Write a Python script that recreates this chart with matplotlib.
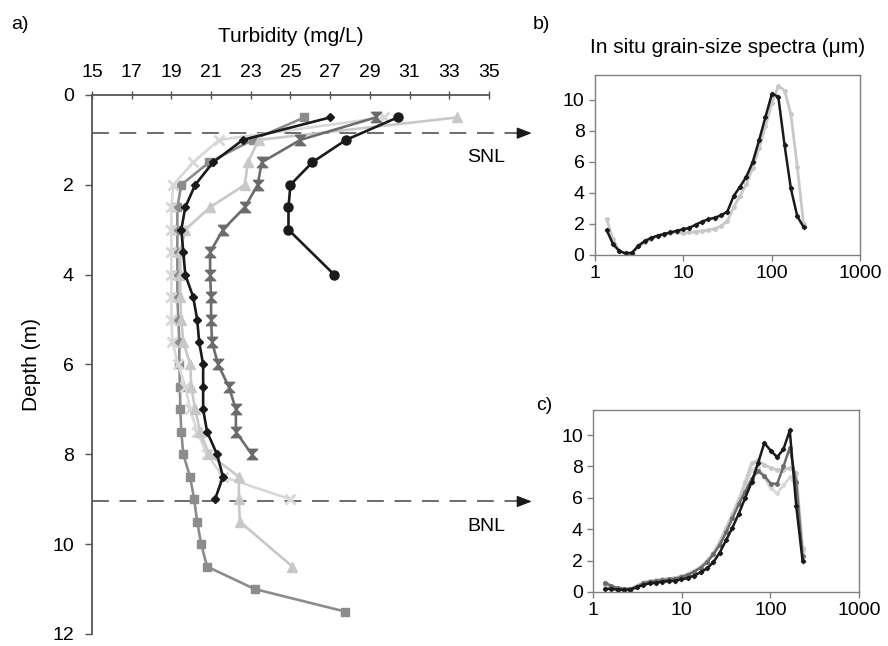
import matplotlib.pyplot as plt
from matplotlib.ticker import FixedLocator, NullLocator

plt.rcParams["font.family"] = ["Liberation Sans", "DejaVu Sans"]

# panel a: turbidity profiles (mg/L) vs depth (m)
depth_circle = [0.5, 1.0, 1.5, 2.0, 2.5, 3.0, 4.0]
turb_circle = [30.4, 27.8, 26.1, 25.0, 24.9, 24.9, 27.2]

depth_diamond = [0.5, 1.0, 1.5, 2.0, 2.5, 3.0, 3.5, 4.0, 4.5, 5.0, 5.5, 6.0, 6.5, 7.0, 7.5, 8.0, 8.5, 9.0]
turb_diamond = [27.0, 22.6, 21.1, 20.2, 19.7, 19.5, 19.6, 19.7, 20.1, 20.3, 20.4, 20.6, 20.6, 20.6, 20.8, 21.3, 21.6, 21.2]

depth_hourglass = [0.5, 1.0, 1.5, 2.0, 2.5, 3.0, 3.5, 4.0, 4.5, 5.0, 5.5, 6.0, 6.5, 7.0, 7.5, 8.0]
turb_hourglass = [29.3, 25.5, 23.55, 23.35, 22.7, 21.6, 20.95, 20.95, 21.0, 21.0, 21.05, 21.35, 21.9, 22.25, 22.25, 23.05]

depth_square = [0.5, 1.0, 1.5, 2.0, 2.5, 3.0, 3.5, 4.0, 4.5, 5.0, 5.5, 6.0, 6.5, 7.0, 7.5, 8.0,
                8.5, 9.0, 9.5, 10.0, 10.5, 11.0, 11.5]
turb_square = [25.7, 23.1, 20.9, 19.5, 19.3, 19.3, 19.3, 19.3, 19.3, 19.35, 19.4, 19.4, 19.43, 19.45, 19.5, 19.6,
               19.94, 20.15, 20.3, 20.5, 20.8, 23.2, 27.75]

depth_triangle = [0.5, 1.0, 1.5, 2.0, 2.5, 3.0, 3.5, 4.0, 4.5, 5.0, 5.5, 6.0, 6.5, 7.0, 7.5, 8.0, 8.5, 9.0, 9.5, 10.5]
turb_triangle = [33.4, 23.4, 22.85, 22.7, 20.95, 19.7, 19.45, 19.45, 19.45, 19.5, 19.6, 19.95, 20.0, 20.2, 20.45,
                 20.9, 22.4, 22.4, 22.45, 25.1]

depth_cross = [0.5, 1.0, 1.5, 2.0, 2.5, 3.0, 3.5, 4.0, 4.5, 5.0, 5.5, 6.0, 6.5, 7.0, 7.5, 8.0, 8.5, 9.0]
turb_cross = [29.7, 21.4, 20.1, 19.1, 19.0, 19.0, 19.0, 19.0, 19.0, 19.0, 19.05, 19.35, 19.7, 19.95, 20.3, 20.8,
              21.6, 25.0]

SNL_DEPTH = 0.85
BNL_DEPTH = 9.05

# panels b and c: grain-size bins (um) and volume concentration
grain_size = [1.36, 1.60, 1.89, 2.23, 2.63, 3.11, 3.67, 4.33, 5.11, 6.03, 7.11, 8.39, 9.90, 11.7, 13.8, 16.3,
              19.2, 22.7, 26.7, 31.6, 37.2, 43.9, 51.9, 61.2, 72.2, 85.2, 101, 119, 140, 165, 195, 230]

snl_black = [1.6, 0.7, 0.25, 0.1, 0.15, 0.6, 0.9, 1.1, 1.25, 1.35, 1.45, 1.55, 1.65, 1.75, 1.95, 2.15,
             2.3, 2.4, 2.55, 2.8, 3.8, 4.4, 5.05, 6.0, 7.4, 8.9, 10.4, 10.2, 7.1, 4.3, 2.5, 1.8]
snl_light = [2.3, 1.0, 0.25, 0.1, 0.1, 0.55, 0.85, 1.0, 1.2, 1.3, 1.4, 1.45, 1.4, 1.45, 1.5, 1.55,
             1.6, 1.7, 1.85, 2.2, 3.1, 3.8, 4.6, 5.6, 6.9, 8.3, 9.8, 10.9, 10.6, 9.1, 5.7, 2.0]

bnl_black = [0.2, 0.2, 0.15, 0.15, 0.15, 0.3, 0.45, 0.55, 0.6, 0.65, 0.7, 0.72, 0.8, 0.9, 1.05, 1.25,
             1.5, 1.9, 2.5, 3.3, 4.1, 5.0, 6.0, 7.0, 8.2, 9.5, 9.0, 8.6, 9.1, 10.3, 5.5, 2.0]
bnl_dark = [0.6, 0.4, 0.25, 0.2, 0.2, 0.35, 0.55, 0.65, 0.7, 0.75, 0.8, 0.85, 0.95, 1.1, 1.3, 1.55,
            1.9, 2.4, 3.0, 3.8, 4.7, 5.6, 6.4, 7.2, 7.7, 7.4, 6.9, 6.9, 8.0, 9.2, 7.0, 2.3]
bnl_light = [0.5, 0.35, 0.25, 0.2, 0.2, 0.4, 0.6, 0.7, 0.75, 0.8, 0.85, 0.9, 1.0, 1.15, 1.35, 1.6,
             2.0, 2.5, 3.2, 4.1, 5.0, 5.9, 7.0, 8.2, 8.4, 8.1, 7.9, 7.8, 7.8, 7.9, 7.6, 2.8]
bnl_lighter = [0.45, 0.3, 0.2, 0.2, 0.2, 0.4, 0.6, 0.7, 0.75, 0.8, 0.85, 0.9, 1.0, 1.1, 1.3, 1.55,
               1.9, 2.4, 3.0, 3.9, 4.8, 5.8, 6.8, 7.8, 8.0, 7.3, 6.6, 6.3, 6.8, 7.3, 6.8, 2.6]

BLACK = "#1a1a1a"
DARK = "#6b6b6b"
MID = "#8c8c8c"
LIGHT = "#c8c8c8"
LIGHTER = "#d8d8d8"
SPINE = "#555555"

hourglass = [(-1, 1), (1, 1), (-1, -1), (1, -1), (-1, 1)]

fig = plt.figure(figsize=(8.88, 6.46), dpi=100)

# ---- panel a
ax = fig.add_axes([0.1036, 0.0186, 0.447, 0.8344])
lw = 1.9
ax.plot(turb_square, depth_square, color=MID, lw=lw, marker="s", ms=6, zorder=2)
ax.plot(turb_cross, depth_cross, color=LIGHTER, lw=lw, marker="x", ms=6.5, mew=2, zorder=3)
ax.plot(turb_triangle, depth_triangle, color=LIGHT, lw=lw, marker="^", ms=6.5, zorder=3)
ax.plot(turb_hourglass, depth_hourglass, color=DARK, lw=lw, marker=hourglass, ms=7.5, zorder=4)
ax.plot(turb_diamond, depth_diamond, color=BLACK, lw=lw, marker="D", ms=4.5, zorder=5)
ax.plot(turb_circle, depth_circle, color=BLACK, lw=lw, marker="o", ms=6.5, zorder=5)

ax.set_xlim(15, 35)
ax.set_ylim(12, 0)
ax.set_xticks(range(15, 36, 2))
ax.set_yticks(range(0, 13, 2))
ax.xaxis.tick_top()
ax.xaxis.set_label_position("top")
for s in ("right", "bottom"):
    ax.spines[s].set_visible(False)
for s in ("left", "top"):
    ax.spines[s].set_color(SPINE)
    ax.spines[s].set_linewidth(1.3)
ax.tick_params(axis="x", direction="inout", length=6, width=1, colors=SPINE, labelsize=14,
               labelcolor="black", pad=7)
ax.tick_params(axis="y", direction="out", length=5, width=1, colors=SPINE, labelsize=14,
               labelcolor="black", pad=8)
ax.set_xlabel("Turbidity (mg/L)", fontsize=15, labelpad=16)
ax.set_ylabel("Depth (m)", fontsize=15, labelpad=8)

for d, name in ((SNL_DEPTH, "SNL"), (BNL_DEPTH, "BNL")):
    ax.plot([15, 36.5], [d, d], color="#444444", lw=1.1, ls=(0, (11, 7)), clip_on=False, zorder=1)
    ax.annotate("", xy=(37.3, d), xytext=(36.3, d), annotation_clip=False,
                arrowprops=dict(arrowstyle="-|>,head_length=0.9,head_width=0.35", color=BLACK, lw=1))
    ax.text(33.9, d + 0.55, name, fontsize=14, ha="left", va="center")

fig.text(0.012, 0.955, "a)", fontsize=14)


# ---- panels b and c
def spectrum_axes(rect):
    a = fig.add_axes(rect)
    a.set_xscale("log")
    a.set_xlim(1, 1000)
    a.set_ylim(0, 11.6)
    a.xaxis.set_major_locator(FixedLocator([1, 10, 100, 1000]))
    a.xaxis.set_minor_locator(NullLocator())
    a.set_xticklabels(["1", "10", "100", "1000"])
    a.set_yticks(range(0, 11, 2))
    for s in a.spines.values():
        s.set_color("#808080")
        s.set_linewidth(1.0)
    a.tick_params(direction="out", length=4, width=1, colors="#808080", labelsize=14,
                  labelcolor="black")
    return a


axb = spectrum_axes([0.670, 0.6053, 0.2984, 0.2786])
axb.plot(grain_size, snl_light, color=LIGHT, lw=2.0, marker="o", ms=2.5)
axb.plot(grain_size, snl_black, color=BLACK, lw=1.8, marker="D", ms=2.2)
axb.set_title("In situ grain-size spectra (μm)", fontsize=15, pad=16)
fig.text(0.600, 0.955, "b)", fontsize=14)

axc = spectrum_axes([0.668, 0.0836, 0.2995, 0.2817])
axc.plot(grain_size, bnl_lighter, color=LIGHTER, lw=2.0, marker="o", ms=2.5)
axc.plot(grain_size, bnl_light, color=LIGHT, lw=2.0, marker="o", ms=2.5)
axc.plot(grain_size, bnl_dark, color=DARK, lw=1.8, marker="o", ms=2.5)
axc.plot(grain_size, bnl_black, color=BLACK, lw=1.8, marker="D", ms=2.2)
fig.text(0.604, 0.365, "c)", fontsize=14)

fig.savefig("out.png", dpi=100)
